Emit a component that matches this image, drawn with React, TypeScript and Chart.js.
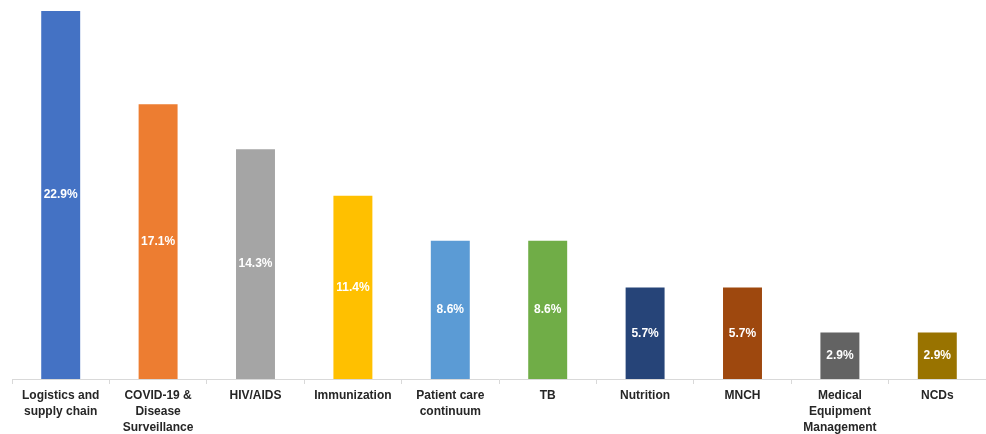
import React, { useEffect, useRef } from "react";
import { Chart, registerables } from "chart.js";

Chart.register(...registerables);

const categories: (string | string[])[] = [
  ["Logistics and", "supply chain"],
  ["COVID-19 &", "Disease", "Surveillance"],
  "HIV/AIDS",
  "Immunization",
  ["Patient care", "continuum"],
  "TB",
  "Nutrition",
  "MNCH",
  ["Medical", "Equipment", "Management"],
  "NCDs",
];

const values = [22.9, 17.1, 14.3, 11.4, 8.6, 8.6, 5.7, 5.7, 2.9, 2.9];

const barColors = [
  "#4472C4",
  "#ED7D31",
  "#A5A5A5",
  "#FFC000",
  "#5B9BD5",
  "#70AD47",
  "#264478",
  "#9E480E",
  "#636363",
  "#997300",
];

const valueLabelPlugin = {
  id: "valueLabels",
  afterDatasetsDraw(chart: any) {
    const ctx = chart.ctx;
    const meta = chart.getDatasetMeta(0);
    ctx.save();
    ctx.font = "bold 12px 'Liberation Sans', Arial, sans-serif";
    ctx.fillStyle = "#ffffff";
    ctx.textAlign = "center";
    ctx.textBaseline = "middle";
    meta.data.forEach((bar: any, i: number) => {
      const v = chart.data.datasets[0].data[i];
      const cy = (bar.y + bar.base) / 2;
      ctx.fillText(v.toFixed(1) + "%", bar.x, cy);
    });
    ctx.restore();
  },
};

export default function App() {
  const ref = useRef<HTMLCanvasElement | null>(null);

  useEffect(() => {
    if (!ref.current) return;
    const chart = new Chart(ref.current, {
      type: "bar",
      data: {
        labels: categories,
        datasets: [
          {
            data: values,
            backgroundColor: barColors,
            borderWidth: 0,
            categoryPercentage: 1,
            barPercentage: 0.4,
          },
        ],
      },
      plugins: [valueLabelPlugin],
      options: {
        animation: false,
        responsive: false,
        maintainAspectRatio: false,
        layout: { padding: { left: 12, right: 0, top: 11, bottom: 0 } },
        plugins: {
          legend: { display: false },
          tooltip: { enabled: false },
        },
        scales: {
          y: {
            display: false,
            min: 0,
            max: 22.9,
          },
          x: {
            offset: true,
            grid: {
              offset: true,
              drawOnChartArea: false,
              drawTicks: true,
              tickLength: 5,
              color: "#d9d9d9",
            },
            border: { display: true, color: "#d9d9d9", width: 1 },
            ticks: {
              autoSkip: false,
              maxRotation: 0,
              minRotation: 0,
              padding: 4,
              color: "#262626",
              font: {
                family: "'Liberation Sans', Arial, sans-serif",
                size: 12,
                weight: "bold",
                lineHeight: 1.33,
              },
            },
            afterFit: (scale: any) => {
              scale.height = 55;
            },
          },
        },
      },
    });
    return () => chart.destroy();
  }, []);

  return (
    <div style={{ position: "fixed", left: 0, top: 0, width: 986, height: 434, background: "#fff" }}>
      <canvas ref={ref} width={986} height={434} style={{ display: "block" }} />
    </div>
  );
}
